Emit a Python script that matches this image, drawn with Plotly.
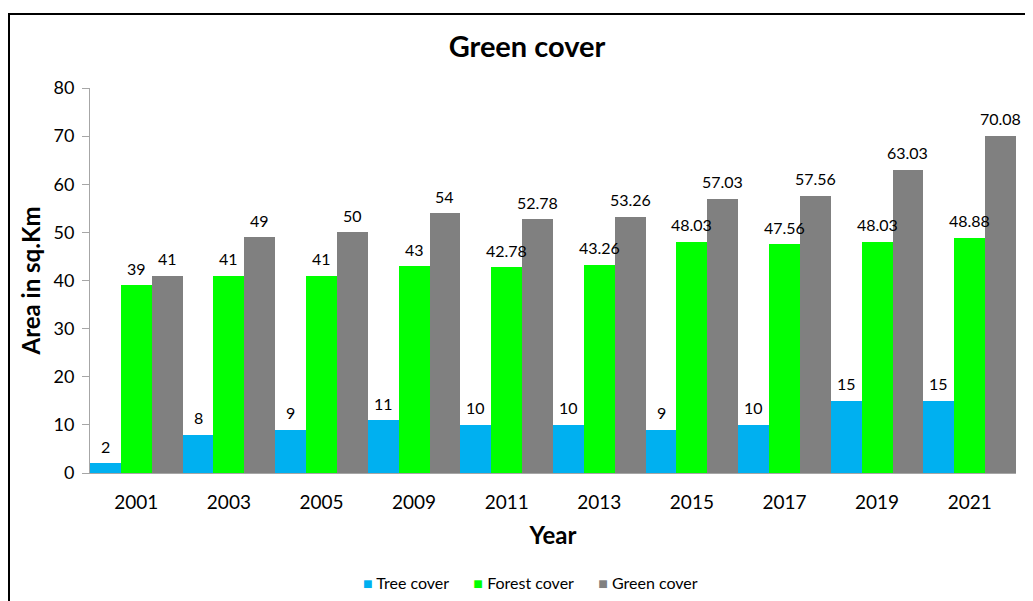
import plotly.graph_objects as go

years = ["2001", "2003", "2005", "2009", "2011", "2013", "2015", "2017", "2019", "2021"]
tree_cover = [2, 8, 9, 11, 10, 10, 9, 10, 15, 15]
forest_cover = [39, 41, 41, 43, 42.78, 43.26, 48.03, 47.56, 48.03, 48.88]
green_cover = [41, 49, 50, 54, 52.78, 53.26, 57.03, 57.56, 63.03, 70.08]

series = [
    ("Tree cover", tree_cover, "#00B0F0"),
    ("Forest cover", forest_cover, "#00FF00"),
    ("Green cover", green_cover, "#808080"),
]

FONT = "Lato, 'Open Sans', sans-serif"
OFF = 8  # page body margin
W, H = 1033, 601
# reference plot area in page px: x 90..1016, y 88..473
L, T = 90 - OFF, 88 - OFF
R = W - (1016 - OFF)
B = H - (473 - OFF)
plot_w = W - L - R
plot_h = H - T - B
bar_px = plot_w / len(years) / 3

def py(page_y):
    return ((H - B) - (page_y - OFF)) / plot_h

def px(page_x):
    return ((page_x - OFF) - L) / plot_w

fig = go.Figure()
for i, (name, vals, color) in enumerate(series):
    fig.add_trace(go.Bar(
        x=years, y=vals, name=name,
        marker=dict(color=color, line=dict(width=0)),
        showlegend=False,
    ))
    for j, v in enumerate(vals):
        fig.add_annotation(
            x=j, y=v, xref="x", yref="y",
            text=f"{v:g}", showarrow=False,
            xshift=(i - 1) * bar_px, yshift=17,
            font=dict(size=16, color="#000000", family=FONT),
        )

# legend drawn as text
legend_html = "&nbsp;&nbsp;&nbsp;&nbsp;&nbsp;&nbsp;".join(
    f"<span style='color:{c}'>■</span> {n}" for n, _, c in series
)
fig.add_annotation(
    xref="paper", yref="paper", x=px(530), y=py(582),
    xanchor="center", yanchor="middle", showarrow=False,
    text=legend_html, font=dict(size=16, family=FONT, color="#000000"),
)

fig.update_layout(
    width=W, height=H,
    paper_bgcolor="white", plot_bgcolor="white",
    barmode="group", bargap=0, bargroupgap=0,
    margin=dict(l=L, r=R, t=T, b=B, autoexpand=False),
    font=dict(family=FONT, color="#000000"),
    showlegend=False,
    title=dict(text="<b>Green cover</b>", x=(527 - OFF) / W, xanchor="center",
               y=1 - (47 - OFF) / H, yanchor="middle",
               font=dict(size=29, family=FONT, color="#000000")),
    xaxis=dict(
        type="category", range=[-0.5, len(years) - 0.5],
        title=dict(text="<b>Year</b>", font=dict(size=24, family=FONT, color="#000000"), standoff=15),
        tickfont=dict(size=19, family=FONT, color="#000000"),
        showline=True, linecolor="#a6a6a6", linewidth=1,
        ticks="", showgrid=False, automargin=False, ticklabelstandoff=12,
    ),
    yaxis=dict(
        title=dict(text="<b>Area in sq.Km</b>", font=dict(size=24, family=FONT, color="#000000"), standoff=6),
        tickfont=dict(size=18, family=FONT, color="#000000"),
        range=[0, 80], dtick=10,
        showline=True, linecolor="#a6a6a6", linewidth=1,
        ticks="outside", ticklen=7, tickcolor="#a6a6a6",
        showgrid=False, zeroline=False, automargin=False, ticklabelstandoff=4,
    ),
)

# outer chart border (top and left visible in reference)
fig.add_shape(type="rect", xref="paper", yref="paper",
              x0=px(9), x1=1.2, y0=-0.6, y1=py(14),
              line=dict(color="#000000", width=2), fillcolor="rgba(0,0,0,0)", layer="above")

fig.write_html("out.html")
